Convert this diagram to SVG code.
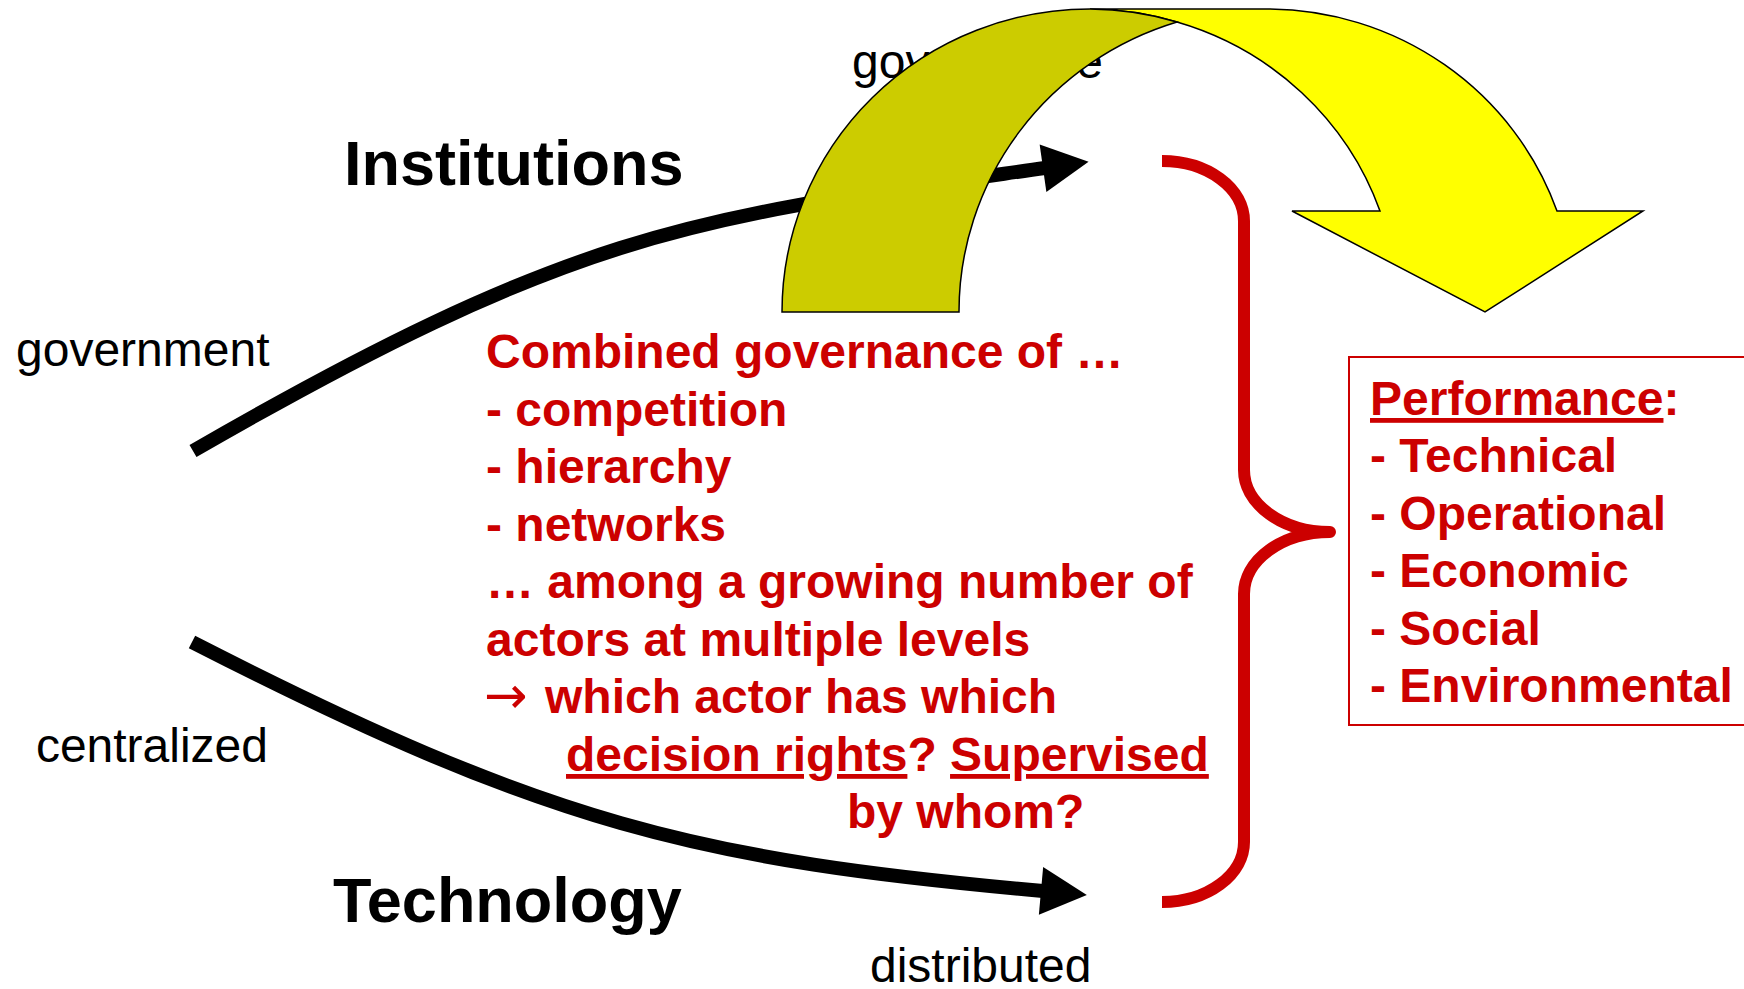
<svg xmlns="http://www.w3.org/2000/svg" width="1744" height="989" viewBox="0 0 1744 989">
<style>
.lbl{font-family:"Liberation Sans",Arial,sans-serif;font-size:48px;fill:#000}
.title{font-family:"Liberation Sans",Arial,sans-serif;font-size:63px;font-weight:bold;fill:#000}
.red{font-family:"Liberation Sans",Arial,sans-serif;font-size:48px;font-weight:bold;fill:#CC0000}
.conn{fill:none;stroke:#000;stroke-width:14}
.brace{fill:none;stroke:#CC0000;stroke-width:12;stroke-linejoin:round}
.arc{stroke:#000;stroke-width:1.5;stroke-linejoin:miter}
</style>
<defs>
<marker id="ah" markerUnits="userSpaceOnUse" markerWidth="60" markerHeight="60" refX="2" refY="24" orient="auto" overflow="visible">
<path d="M0,0 L46,24 L0,48 Z" fill="#000"/>
</marker>
</defs>
<rect width="1744" height="989" fill="#fff"/>

<g id="governance-label"><text class="lbl" x="852" y="78">governance</text></g>

<g id="connectors">
<path id="institutions-arrow" class="conn" d="M193,451 C583,226 698,217 1045,168" marker-end="url(#ah)"/>
<path id="technology-arrow" class="conn" d="M192,642 C548,824 696,860 1043,891" marker-end="url(#ah)"/>
<path id="brace" class="brace" d="M1162,161 A82 60 0 0 1 1244,221 L1244,470 A86 62 0 0 0 1330,532 A86 62 0 0 0 1244,594 L1244,842 A82 60 0 0 1 1162,902"/>
</g>

<g id="curved-arrow">
<path class="arc" fill="#FFFF00" d="M1090,9 L1267,9 A308 303 0 0 1 1557,211 L1643,211 L1485,312 L1292,211 L1380,211 A308 303 0 0 0 1177,22 A308 303 0 0 0 1090,9 Z"/>
<path class="arc" fill="#CCCC00" d="M782,312 A308 303 0 0 1 1090,9 A308 303 0 0 1 1177,22 A308 303 0 0 0 959,312 Z"/>
</g>

<g id="institutions"><text class="title" x="344" y="185">Institutions</text></g>
<g id="technology"><text class="title" x="333" y="922">Technology</text></g>
<g id="government"><text class="lbl" x="16" y="366">government</text></g>
<g id="centralized"><text class="lbl" x="268" y="762" text-anchor="end">centralized</text></g>
<g id="distributed"><text class="lbl" x="870" y="982">distributed</text></g>

<g id="governance-text">
<text class="red" x="486" y="368">Combined governance of …</text>
<text class="red" x="486" y="426">- competition</text>
<text class="red" x="486" y="483">- hierarchy</text>
<text class="red" x="486" y="541">- networks</text>
<text class="red" x="486" y="598">… among a growing number of</text>
<text class="red" x="486" y="656">actors at multiple levels</text>
<text class="red" x="484" y="713"><tspan style="font-family:'DejaVu Sans',sans-serif;font-weight:normal;font-size:52px">→ </tspan><tspan x="545">which actor has which</tspan></text>
<text class="red" x="566" y="771"><tspan text-decoration="underline">decision rights</tspan>? <tspan text-decoration="underline">Supervised</tspan></text>
<text class="red" x="847" y="828">by whom?</text>
</g>

<g id="performance">
<rect x="1349" y="357" width="420" height="368" fill="none" stroke="#CC0000" stroke-width="2"/>
<text class="red" x="1370" y="415"><tspan text-decoration="underline">Performance</tspan>:</text>
<text class="red" x="1370" y="472">- Technical</text>
<text class="red" x="1370" y="530">- Operational</text>
<text class="red" x="1370" y="587">- Economic</text>
<text class="red" x="1370" y="645">- Social</text>
<text class="red" x="1370" y="702">- Environmental</text>
</g>
</svg>
